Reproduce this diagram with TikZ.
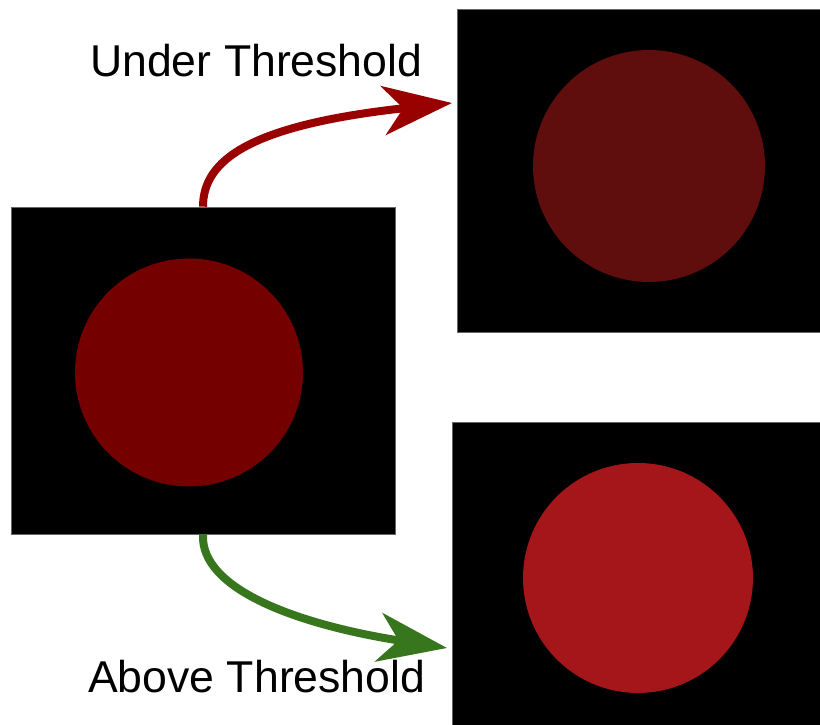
\documentclass[tikz,border=0pt]{standalone}
\usepackage{fontspec}
\setmainfont{Liberation Sans}
\usepackage{tikz}
\usetikzlibrary{shapes, positioning, arrows.meta, calc}
\definecolor{srcRed}{HTML}{750000}
\definecolor{dimRed}{HTML}{5F0D0D}
\definecolor{brightRed}{HTML}{A4161A}
\definecolor{underColor}{HTML}{990000}
\definecolor{aboveColor}{HTML}{38761D}
\tikzstyle{panel}=[rectangle, fill=black, draw=black!60, line width=0.6pt, inner sep=0pt]
\tikzstyle{dot}=[circle, inner sep=0pt, draw=none]
\tikzstyle{arrow}=[-{Stealth[length=69pt, width=49pt, inset=20pt]}, line width=8pt]
\tikzstyle{caption}=[anchor=base west, inner sep=0pt, font=\fontsize{44.6}{50}\selectfont]

\begin{document}
\begin{tikzpicture}[x=1pt, y=1pt]
      \useasboundingbox (0,0) rectangle (820,725);
      \node(src) at (203,354.5) [panel, minimum width=384pt, minimum height=327pt] {};
      \node(under) at (638.5,554.5) [panel, minimum width=363pt, minimum height=323pt] {};
      \node(above) at (636,151.5) [panel, minimum width=368pt, minimum height=303pt] {};
      \node(srcDot) at (189,352.5) [dot, fill=srcRed, minimum size=228pt] {};
      \node(underDot) at (649,559) [dot, fill=dimRed, minimum size=232pt] {};
      \node(aboveDot) at (638,147) [dot, fill=brightRed, minimum size=230pt] {};
      \coordinate(underIn) at (452,622);
      \coordinate(aboveIn) at (447,77);
      \draw[arrow, color=underColor] (src.north) .. controls (203,565) and (250,600) .. (underIn);
      \draw[arrow, color=aboveColor] (src.south) .. controls (200,135) and (300,100) .. (aboveIn);
      \node(underText) at (90,648) [caption] {Under Threshold};
      \node(aboveText) at (88,32) [caption] {Above Threshold};
    \end{tikzpicture}
\end{document}
